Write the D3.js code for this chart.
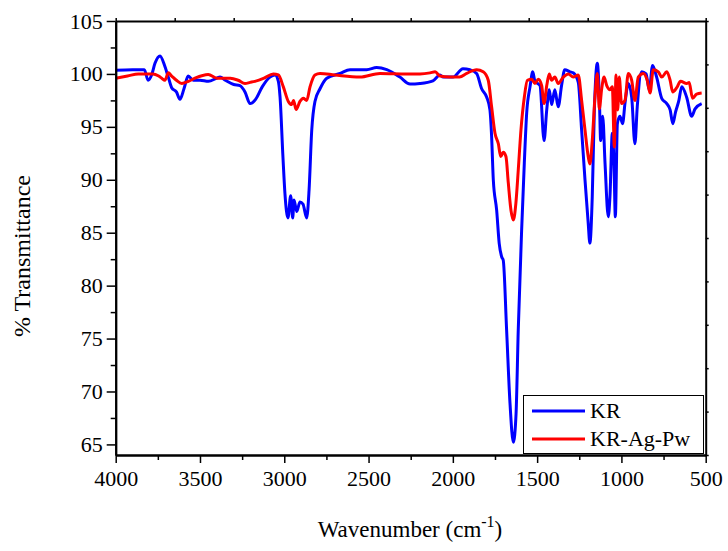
<!DOCTYPE html>
<html>
<head>
<meta charset="utf-8">
<script src="https://cdn.jsdelivr.net/npm/d3@7"></script>
<style>
  body { margin: 0; background: #fff; }
  text { font-family: "Liberation Serif", "Times New Roman", serif; fill: #000; }
</style>
</head>
<body>
<figure id="ftir" style="margin:0"></figure>
<script>
// KR spectrum
const krWave = [4000, 3900, 3830, 3808, 3787, 3767, 3737, 3708, 3688, 3668, 3640, 3619, 3595, 3570, 3540, 3500, 3450, 3400, 3381, 3350,
  3300, 3263, 3233, 3203, 3170, 3130, 3085, 3055, 3035, 3025, 3008, 2996, 2978, 2962, 2950, 2942, 2926, 2907, 2889, 2867,
  2853, 2837, 2818, 2788, 2748, 2669, 2610, 2511, 2452, 2392, 2314, 2254, 2195, 2118, 2076, 2058, 1999, 1940, 1899, 1859,
  1829, 1799, 1780, 1770, 1760, 1740, 1725, 1710, 1701, 1681, 1661, 1641, 1625, 1612, 1592, 1576, 1562, 1542, 1526, 1513,
  1483, 1459, 1443, 1428, 1414, 1395, 1375, 1355, 1336, 1305, 1286, 1256, 1236, 1216, 1197, 1187, 1173, 1161, 1143, 1131,
  1123, 1111, 1097, 1078, 1068, 1054, 1044, 1036, 1024, 1009, 993, 979, 959, 939, 920, 906, 880, 854, 835, 815,
  791, 761, 731, 711, 695, 679, 659, 642, 613, 583, 563, 524];
const krT = [100.35, 100.4, 100.4, 99.4, 99.9, 101.0, 101.7, 100.7, 99.7, 98.7, 98.3, 97.6, 98.6, 99.8, 99.4, 99.4, 99.3, 99.6, 99.7, 99.4,
  99.0, 98.9, 98.3, 97.2, 97.6, 98.8, 99.7, 99.9, 99.3, 97.8, 92.2, 88.7, 86.4, 88.5, 86.4, 88.1, 87.0, 87.9, 87.7, 86.4,
  89.0, 94.7, 97.4, 98.6, 99.6, 100.05, 100.4, 100.4, 100.6, 100.4, 99.7, 99.05, 99.1, 99.35, 99.9, 99.7, 99.7, 100.5, 100.4, 100.05,
  98.6, 97.8, 96.6, 94.1, 90.0, 87.1, 84.0, 82.7, 82.4, 75.8, 68.9, 65.2, 67.9, 75.8, 85.2, 91.6, 96.3, 98.8, 100.2, 99.3,
  98.9, 93.7, 96.6, 98.5, 97.1, 98.5, 96.9, 98.9, 100.4, 100.2, 100.1, 99.2, 94.7, 90.0, 85.9, 84.0, 88.4, 96.3, 101.0, 97.8,
  93.7, 96.0, 91.5, 86.5, 88.4, 94.4, 91.5, 86.5, 95.3, 96.0, 95.3, 97.2, 99.1, 97.8, 93.4, 96.9, 100.2, 100.0, 98.5, 100.8,
  99.7, 97.7, 97.2, 96.6, 95.3, 96.4, 97.5, 98.8, 97.8, 96.0, 96.7, 97.2];

// KR-Ag-Pw spectrum
const agWave = [4000, 3930, 3866, 3780, 3745, 3727, 3708, 3688, 3668, 3640, 3608, 3569, 3530, 3451, 3400, 3320, 3273, 3233, 3203, 3174,
  3120, 3065, 3035, 3006, 2976, 2956, 2945, 2930, 2907, 2887, 2867, 2847, 2818, 2788, 2700, 2551, 2432, 2274, 2195, 2135,
  2105, 2076, 2020, 1960, 1918, 1859, 1820, 1790, 1770, 1750, 1730, 1716, 1701, 1685, 1671, 1655, 1641, 1626, 1612, 1596,
  1576, 1558, 1532, 1513, 1493, 1473, 1459, 1443, 1428, 1414, 1395, 1375, 1345, 1315, 1286, 1256, 1236, 1216, 1197, 1187,
  1173, 1157, 1143, 1131, 1117, 1103, 1087, 1068, 1054, 1042, 1032, 1022, 1013, 999, 979, 959, 939, 920, 900, 870,
  847, 830, 811, 781, 761, 731, 711, 696, 672, 649, 613, 598, 578, 554, 524];
const agT = [99.6, 99.8, 100.0, 100.0, 99.8, 99.6, 99.4, 100.1, 99.8, 99.4, 99.1, 99.3, 99.6, 99.95, 99.6, 99.6, 99.4, 99.1, 99.2, 99.3,
  99.6, 100.0, 99.9, 98.8, 97.4, 97.1, 97.5, 96.65, 97.4, 97.7, 97.5, 98.8, 99.9, 100.05, 99.9, 99.7, 100.05, 100.0, 100.0, 100.1,
  100.2, 99.8, 99.7, 99.7, 100.05, 100.4, 100.2, 99.4, 96.9, 94.4, 93.4, 92.2, 92.6, 92.2, 89.7, 87.1, 86.2, 87.8, 90.9, 94.7,
  97.8, 99.4, 99.5, 99.1, 99.5, 98.9, 97.2, 98.9, 100.0, 99.4, 99.7, 99.1, 99.7, 100.0, 99.7, 99.9, 97.5, 94.7, 92.2, 91.5,
  93.7, 97.8, 100.05, 96.7, 98.6, 99.7, 98.9, 98.5, 98.8, 93.1, 99.9, 96.6, 99.7, 97.2, 97.5, 100.05, 99.4, 97.5, 99.7, 100.05,
  99.4, 98.2, 100.4, 100.2, 99.7, 100.2, 99.4, 98.3, 98.7, 99.3, 99.1, 99.2, 97.7, 98.1, 98.2];

const seriesNames = ["KR", "KR-Ag-Pw"];
const seriesColors = ["#0000ff", "#ff0000"];
const xTicks = [4000, 3500, 3000, 2500, 2000, 1500, 1000, 500];
const yTicks = [65, 70, 75, 80, 85, 90, 95, 100, 105];

const W = 728, H = 551;
const plotLeft = 115.7, plotRight = 705.7, plotTop = 21, plotBottom = 455;

const svg = d3.select("figure#ftir")
  .append("svg")
  .attr("width", W)
  .attr("height", H);

const x = d3.scaleLinear().domain([4000, 500]).range([plotLeft, plotRight]);
const y = d3.scaleLinear().domain([64, 105]).range([plotBottom, plotTop]);

// lines
const line = d3.line()
  .x(d => x(d[0]))
  .y(d => y(d[1]))
  .curve(d3.curveMonotoneX);

const series = [
  d3.zip(krWave, krT),
  d3.zip(agWave, agT)
];

series.forEach((s, i) => {
  svg.append("path")
    .datum(s)
    .attr("fill", "none")
    .attr("stroke", seriesColors[i])
    .attr("stroke-width", 3)
    .attr("stroke-linejoin", "round")
    .attr("d", line);
});

// axes
function styleAxis(g) {
  g.attr("font-family", null);
  g.select(".domain").attr("stroke", "#000").attr("stroke-width", 2);
  g.selectAll(".tick line").attr("stroke", "#000").attr("stroke-width", 1.5);
  g.selectAll(".tick text").attr("font-size", 22);
}

const minorX = d3.range(3750, 500, -500);
const minorY = d3.range(67.5, 105, 5);

svg.append("g")
  .attr("transform", "translate(0," + plotBottom + ")")
  .call(d3.axisBottom(x).tickValues(minorX).tickSize(5).tickFormat("").tickSizeOuter(0))
  .call(styleAxis);
svg.append("g")
  .attr("transform", "translate(0," + plotBottom + ")")
  .call(d3.axisBottom(x).tickValues(xTicks).tickSize(8).tickPadding(7).tickFormat(d3.format("d")).tickSizeOuter(0))
  .call(styleAxis);

svg.append("g")
  .attr("transform", "translate(" + plotLeft + ",0)")
  .call(d3.axisLeft(y).tickValues(minorY).tickSize(5).tickFormat("").tickSizeOuter(0))
  .call(styleAxis);
svg.append("g")
  .attr("transform", "translate(" + plotLeft + ",0)")
  .call(d3.axisLeft(y).tickValues(yTicks).tickSize(9).tickPadding(4).tickSizeOuter(0))
  .call(styleAxis);

// top and right frame with small ticks
svg.append("g")
  .attr("transform", "translate(0," + plotTop + ")")
  .call(d3.axisTop(x).tickValues(d3.range(11).map(i => 4000 - i * 350)).tickSize(3).tickFormat("").tickSizeOuter(0))
  .call(styleAxis);
svg.append("g")
  .attr("transform", "translate(" + plotRight + ",0)")
  .call(d3.axisRight(y).tickValues(d3.range(11).map(i => 64 + i * 4.1)).tickSize(3).tickFormat("").tickSizeOuter(0))
  .call(styleAxis);

// axis titles
const xt = svg.append("text")
  .attr("x", 410)
  .attr("y", 537)
  .attr("text-anchor", "middle")
  .attr("font-size", 23);
xt.append("tspan").text("Wavenumber (cm");
xt.append("tspan").attr("dy", -10).attr("font-size", 16).text("-1");
xt.append("tspan").attr("dy", 10).text(")");

svg.append("text")
  .attr("transform", "translate(30," + ((plotTop + plotBottom) / 2 + 18) + ") rotate(-90)")
  .attr("text-anchor", "middle")
  .attr("font-size", 24)
  .text("% Transmittance");

// legend
const lg = svg.append("g");
lg.append("rect")
  .attr("x", 523.5).attr("y", 395.5)
  .attr("width", 180).attr("height", 58)
  .attr("fill", "#fff")
  .attr("stroke", "#000")
  .attr("stroke-width", 1);
seriesNames.forEach((name, i) => {
  const ly = 411 + i * 28;
  lg.append("line")
    .attr("x1", 532).attr("x2", 585)
    .attr("y1", ly).attr("y2", ly)
    .attr("stroke", seriesColors[i])
    .attr("stroke-width", 3);
  lg.append("text")
    .attr("x", 590)
    .attr("y", ly + 7)
    .attr("font-size", 22)
    .text(name);
});
</script>
</body>
</html>
